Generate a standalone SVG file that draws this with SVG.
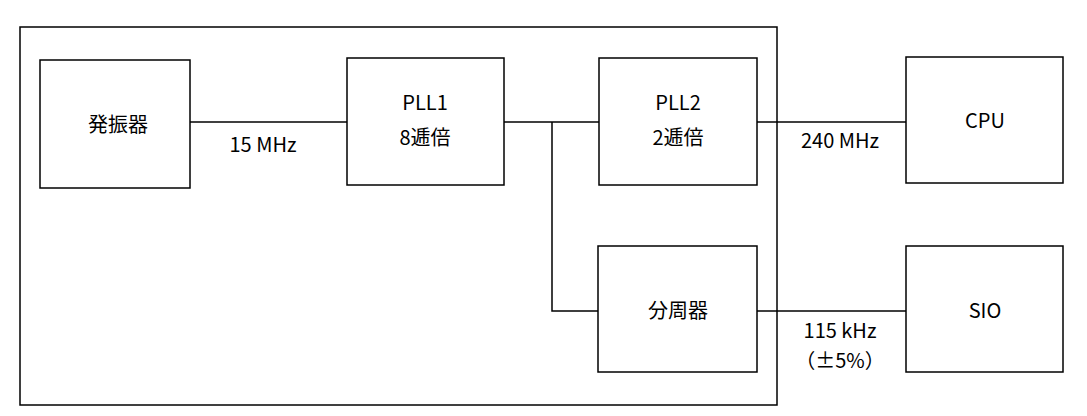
<svg xmlns="http://www.w3.org/2000/svg" width="1087" height="416" viewBox="0 0 1087 416">
<style>
rect{fill:none;stroke:#000;stroke-width:1.5}
line,polyline{fill:none;stroke:#000;stroke-width:1.5}
text{font-family:"Noto Sans CJK JP","Noto Sans",sans-serif;font-size:20px;text-anchor:middle;fill:#000}
</style>
<rect width="1087" height="416" fill="#fff" stroke="none" style="fill:#fff;stroke:none"/>
<rect x="20" y="27" width="757" height="378"/>
<g id="osc"><rect x="40" y="60" width="150" height="128"/><text x="118" y="132">発振器</text></g>
<g id="pll1"><rect x="347" y="58" width="157" height="127"/><text x="425" y="110">PLL1</text><text x="425" y="145">8逓倍</text></g>
<g id="pll2"><rect x="599" y="58" width="158" height="127"/><text x="678" y="110">PLL2</text><text x="678" y="145">2逓倍</text></g>
<g id="cpu"><rect x="906" y="57" width="157" height="126"/><text x="985" y="128">CPU</text></g>
<g id="div"><rect x="598" y="246" width="159" height="126"/><text x="678" y="318">分周器</text></g>
<g id="sio"><rect x="906" y="246" width="157" height="126"/><text x="985" y="318">SIO</text></g>
<g id="connectors">
<line x1="190" y1="122" x2="347" y2="122"/>
<line x1="504" y1="122" x2="599" y2="122"/>
<polyline points="552,122 552,311 598,311"/>
<line x1="757" y1="122" x2="906" y2="122"/>
<line x1="757" y1="311" x2="906" y2="311"/>
<text x="263" y="152">15 MHz</text>
<text x="840" y="148">240 MHz</text>
<text x="840" y="338">115 kHz</text>
<text x="840" y="368">（±5%）</text>
</g>
</svg>
